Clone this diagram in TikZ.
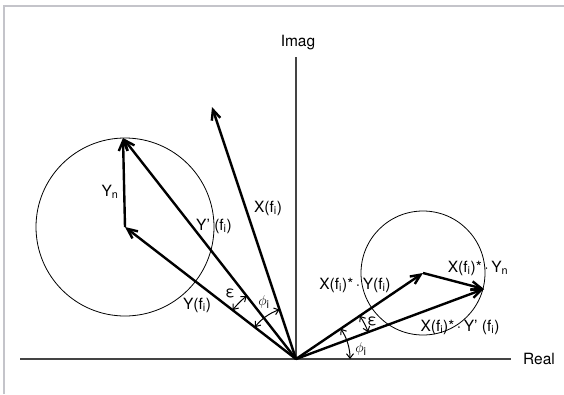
\documentclass[tikz,border=0pt]{standalone}
\usepackage{fontspec}
\setmainfont{TeX Gyre Heros}
\usetikzlibrary{arrows.meta}
\newcommand{\sbs}[1]{\textsubscript{#1}}
\definecolor{framegray}{HTML}{C4C4CA}
\definecolor{axisgray}{HTML}{444444}
\begin{document}
\begin{tikzpicture}[x=1pt,y=1pt,
  vec/.style={line width=2.4pt,-{Straight Barb[length=10pt,width=9pt]}},
  axisline/.style={line width=1.4pt,draw=axisgray},
  ring/.style={line width=0.8pt,draw=black},
  anglearc/.style={line width=1pt,{Straight Barb[length=4.5pt,width=7pt]}-{Straight Barb[length=4.5pt,width=7pt]}},
  lbl/.style={inner sep=0pt,font=\fontsize{15.5}{17}\selectfont}]
\useasboundingbox (0,0) rectangle (564,-394);
\fill[white] (0,0) rectangle (564,-394);
% frame
\draw[framegray,line width=2pt] (4,-394) -- (4,-6) -- (564,-6);
% coordinates
\coordinate (O) at (296,-359);
\coordinate (ReL) at (20,-359);
\coordinate (ReR) at (511,-359);
\coordinate (ImT) at (296,-57);
\coordinate (Y) at (125,-227);
\coordinate (Yp) at (123,-138);
\coordinate (X) at (212,-107);
\coordinate (XY) at (423,-273);
\coordinate (XYp) at (484,-289);
% axes
\draw[axisline] (ReL) -- (ReR);
\draw[axisline] (O) -- (ImT);
\node[lbl] (real) at (539,-359) {Real};
\node[lbl] (imag) at (298,-43) {Imag};
% circles
\draw[ring] (Y) circle[radius=89];
\draw[ring] (XY) circle[radius=62];
% vectors
\draw[vec] (O) -- (Y);
\draw[vec] (Y) -- (Yp);
\draw[vec] (O) -- (Yp);
\draw[vec] (O) -- (X);
\draw[vec] (O) -- (XY);
\draw[vec] (XY) -- (XYp);
\draw[vec] (O) -- (XYp);
% angle arcs
\draw[anglearc] ([shift={(142.3:80)}]O) arc[start angle=142.3,end angle=128.1,radius=80];
\draw[anglearc] ([shift={(142.3:52)}]O) arc[start angle=142.3,end angle=108.4,radius=52];
\draw[anglearc] ([shift={(34.1:77)}]O) arc[start angle=34.1,end angle=20.4,radius=77];
\draw[anglearc] ([shift={(34.1:54)}]O) arc[start angle=34.1,end angle=0,radius=54];
% labels
\node[lbl] (lYn) at (110,-192) {Y\sbs{n}};
\node[lbl] (lYp) at (214,-226) {Y'\ (f\sbs{i})};
\node[lbl] (lX) at (268,-208) {X(f\sbs{i})};
\node[lbl] (lY) at (197,-305) {Y(f\sbs{i})};
\node[lbl] (leps1) at (230,-293) {ε};
\node[lbl] (lphi1) at (264,-302) {$\phi$\sbs{i}};
\node[lbl] (lXY) at (355,-285) {X(f\sbs{i})*\,·\,Y(f\sbs{i})};
\node[lbl] (lXYn) at (478,-268) {X(f\sbs{i})*\,·\,Y\sbs{n}};
\node[lbl] (leps2) at (372,-321) {ε};
\node[lbl] (lXYp) at (460,-327) {X(f\sbs{i})*\,·\,Y'\ (f\sbs{i})};
\node[lbl] (lphi2) at (361,-349) {$\phi$\sbs{i}};
\end{tikzpicture}
\end{document}
